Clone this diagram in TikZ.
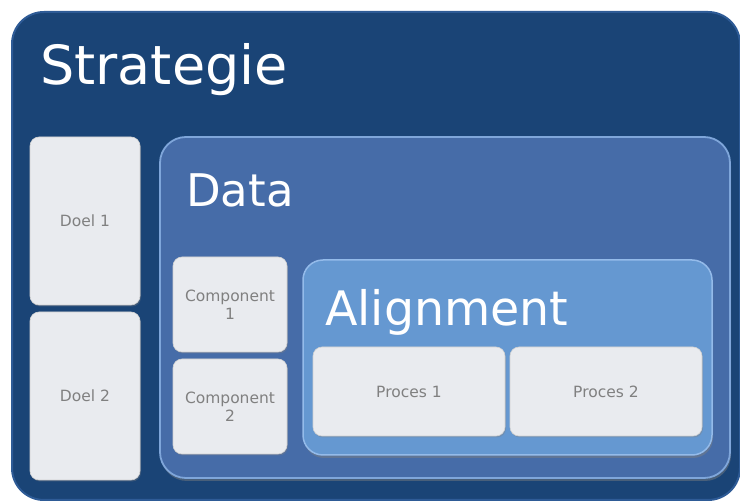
\documentclass[tikz,border=0pt]{standalone}
\usepackage{fontspec}
\setmainfont{DejaVu Sans}
\usetikzlibrary{shadows}
\definecolor{stratblue}{HTML}{1A4476}
\definecolor{stratrim}{HTML}{2E5B96}
\definecolor{datablue}{HTML}{466CA8}
\definecolor{datarim}{HTML}{7FA6DA}
\definecolor{alignblue}{HTML}{6598D1}
\definecolor{alignrim}{HTML}{94BBEA}
\definecolor{boxfill}{HTML}{E9EBEF}
\definecolor{boxtext}{HTML}{808080}
\begin{document}
\begin{tikzpicture}[x=1pt,y=-1pt,
  panel/.style={anchor=north west, inner sep=0pt, outer sep=0pt},
  title/.style={anchor=base west, inner sep=0pt, text=white},
  itembox/.style={panel, fill=boxfill, draw=black!18, line width=0.6pt, rounded corners=9pt,
     text=boxtext, align=center, font=\fontsize{15.5}{18}\selectfont,
     drop shadow={shadow xshift=1pt, shadow yshift=-1.5pt, opacity=0.35}},
]
\useasboundingbox (0,0) rectangle (740,502);
% outer
\node[panel, fill=stratblue, draw=stratrim, line width=2pt, rounded corners=32pt,
      minimum width=728pt, minimum height=488pt] (strat) at (12,12) {};
\node[title, font=\fontsize{54}{60}\selectfont] (strattitle) at (40,85) {Strategie};
% goals
\node[itembox, minimum width=110pt, minimum height=168pt] (doel1) at (30,137) {Doel 1};
\node[itembox, minimum width=110pt, minimum height=168pt] (doel2) at (30,312) {Doel 2};
% data
\node[panel, fill=datablue, draw=datarim, line width=1.8pt, rounded corners=26pt,
      minimum width=570pt, minimum height=341pt,
      drop shadow={shadow xshift=1pt, shadow yshift=-3pt, opacity=0.45}] (data) at (160,137) {};
\node[title, font=\fontsize{45}{50}\selectfont] (datatitle) at (186,207) {Data};
\node[itembox, minimum width=114pt, minimum height=95pt] (comp1) at (173,257) {Component\\1};
\node[itembox, minimum width=114pt, minimum height=95pt] (comp2) at (173,359) {Component\\2};
% alignment
\node[panel, fill=alignblue, draw=alignrim, line width=1.5pt, rounded corners=20pt,
      minimum width=409pt, minimum height=195pt,
      drop shadow={shadow xshift=1pt, shadow yshift=-3pt, opacity=0.45}] (align) at (303,260) {};
\node[title, font=\fontsize{47.5}{52}\selectfont] (aligntitle) at (325,326) {Alignment};
\node[itembox, minimum width=192pt, minimum height=89pt] (proc1) at (313,347) {Proces 1};
\node[itembox, minimum width=192pt, minimum height=89pt] (proc2) at (510,347) {Proces 2};
\end{tikzpicture}
\end{document}
